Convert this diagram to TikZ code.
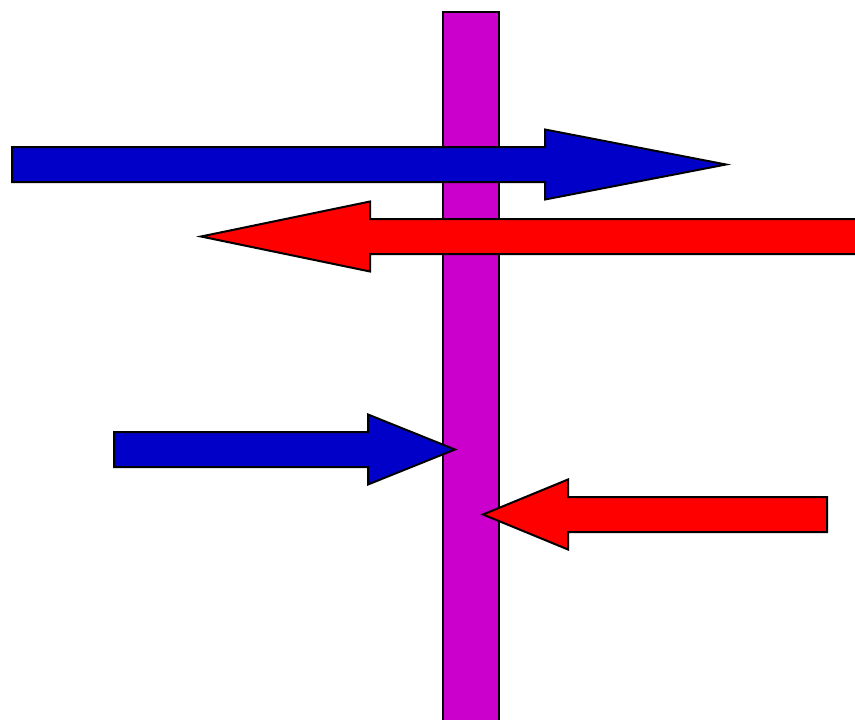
\documentclass[tikz,border=0pt]{standalone}
\definecolor{barmagenta}{RGB}{204,0,204}
\definecolor{arrowblue}{RGB}{0,0,200}
\definecolor{arrowred}{RGB}{255,0,0}
\tikzset{
    outline/.style={draw=black,line width=2pt,line join=miter},
}

\begin{document}
\begin{tikzpicture}[x=1pt,y=-1pt]
            \useasboundingbox (0,0) rectangle (855,720);
            \clip (0,0) rectangle (855,720);

            % the vertical bar
            \draw[outline,fill=barmagenta] (443,12) rectangle (499,730);

            % tail/base/tip/centre/colour
            \foreach \tail/\base/\tip/\cy/\col in {
                12/545/726/164.5/arrowblue,
                862/370/201/236.5/arrowred,
                114/368/455/449.5/arrowblue,
                827/568/483/514.5/arrowred}{
                \draw[outline,fill=\col]
                    (\tail,\cy-17.5) -- (\base,\cy-17.5) -- (\base,\cy-35)
                    -- (\tip,\cy) -- (\base,\cy+35) -- (\base,\cy+17.5)
                    -- (\tail,\cy+17.5) -- cycle;
            }
        \end{tikzpicture}
\end{document}
